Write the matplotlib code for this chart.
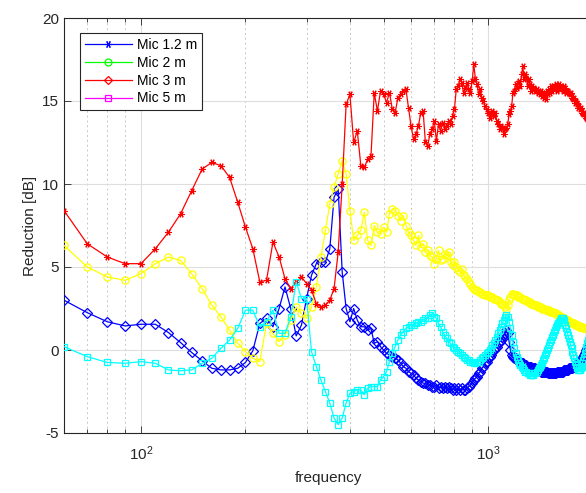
import matplotlib
matplotlib.use("Agg")
import matplotlib.pyplot as plt
from matplotlib.lines import Line2D
from matplotlib.ticker import LogLocator, NullFormatter

plt.rcParams['font.family'] = ['Liberation Sans', 'DejaVu Sans']
plt.rcParams['mathtext.fontset'] = 'custom'
plt.rcParams['mathtext.rm'] = 'Liberation Sans'
plt.rcParams['mathtext.it'] = 'Liberation Sans:italic'
plt.rcParams['axes.unicode_minus'] = False

# frequency grid (Hz), 10 Hz steps
freq = list(range(60, 2001, 10))

red = [8.4, 6.4, 5.6, 5.2,
       5.2, 6.1, 7.1, 8.2, 9.6, 10.9, 11.3, 11.1, 10.4, 8.9,
       7.4, 6.1, 4.1, 4.2, 6.5, 5.6, 4.3, 3.7, 4.1, 4.4,
       4.0, 3.6, 2.8, 2.6, 2.7, 3.0, 3.7, 5.9, 10.0, 14.8,
       15.4, 12.5, 13.2, 11.1, 11.0, 11.5, 11.7, 15.5, 14.4, 15.6,
       15.4, 14.9, 15.5, 14.5, 14.3, 15.2, 15.4, 15.6, 15.7, 14.6,
       13.5, 12.7, 13.0, 13.5, 14.3, 14.4, 12.5, 12.3, 13.0, 13.3,
       13.8, 12.6, 13.6, 13.2, 13.7, 13.3, 13.5, 13.8, 13.6, 14.1,
       14.5, 15.7, 15.9, 16.3, 16.1, 15.5, 15.8, 16.1, 15.7, 15.5,
       16.2, 17.2, 16.3, 16.0, 15.4, 15.7, 15.2, 15.0, 14.7, 14.5,
       14.3, 14.0, 14.2, 14.4, 14.1, 14.3, 13.8, 13.6, 13.3, 13.5,
       13.4, 13.0, 13.3, 13.4, 13.6, 14.2, 14.4, 14.7, 15.5, 15.6,
       16.0, 15.8, 16.1, 16.2, 15.9, 16.6, 17.1, 16.3, 16.6, 16.4,
       15.9, 16.3, 16.0, 15.6, 15.9, 15.7, 15.8, 15.6, 15.7, 15.5,
       15.6, 15.4, 15.6, 15.3, 15.5, 15.2, 15.5, 15.1, 15.6, 15.4,
       15.7, 15.5, 15.9, 15.6, 15.9, 15.7, 15.8, 16.0, 15.6, 15.9,
       16.0, 15.7, 15.9, 15.8, 15.6, 15.9, 15.7, 15.8, 15.5, 15.6,
       15.6, 15.5, 15.4, 15.5, 15.2, 15.3, 15.1, 15.2, 14.9, 15.0,
       14.8, 14.9, 14.6, 14.7, 14.5, 14.6, 14.3, 14.4, 14.2, 14.3,
       14.1, 14.2, 14.0, 13.9, 14.0, 13.8, 13.9, 13.7, 13.8, 13.6,
       13.7]

yellow = [6.3, 5.0, 4.4, 4.2,
          4.6, 5.2, 5.6, 5.4, 4.6, 3.7, 2.7, 2.0, 1.2, 0.4,
          -0.1, -0.5, -0.7, 1.6, 1.0, 0.5, 0.9, 1.8, 2.6, 2.2,
          1.9, 2.6, 3.8, 5.6, 7.2, 8.8, 9.8, 10.6, 11.4, 10.6,
          8.4, 6.6, 6.9, 7.2, 8.3, 6.6, 6.3, 7.5, 7.1, 7.0,
          7.4, 7.1, 8.2, 8.5, 8.4, 8.1, 7.8, 8.1, 7.5, 7.1,
          6.9, 6.6, 6.3, 6.9, 6.2, 6.4, 5.9, 6.0, 5.7, 5.6,
          5.2, 5.5, 6.0, 5.4, 5.5, 5.8, 5.7, 5.9, 5.3, 5.1,
          5.3, 5.0, 4.8, 4.7, 4.9, 4.5, 4.4, 4.3, 4.1, 4.0,
          3.8, 3.7, 3.6, 3.6, 3.5, 3.5, 3.4, 3.4, 3.3, 3.3,
          3.3, 3.2, 3.2, 3.2, 3.1, 3.1, 3.0, 3.0, 2.9, 2.8,
          2.8, 2.7, 2.6, 2.5, 2.7, 3.0, 3.2, 3.4, 3.4, 3.3,
          3.3, 3.3, 3.2, 3.2, 3.2, 3.1, 3.1, 3.0, 3.0, 3.0,
          2.9, 2.9, 2.9, 2.8, 2.8, 2.8, 2.7, 2.7, 2.7, 2.6,
          2.6, 2.6, 2.6, 2.5, 2.5, 2.5, 2.5, 2.4, 2.4, 2.4,
          2.4, 2.3, 2.3, 2.3, 2.3, 2.2, 2.2, 2.2, 2.1, 2.1,
          2.1, 2.0, 2.0, 2.0, 1.9, 1.9, 1.9, 1.8, 1.8, 1.8,
          1.8, 1.7, 1.7, 1.7, 1.6, 1.6, 1.6, 1.6, 1.5, 1.5,
          1.5, 1.5, 1.5, 1.4, 1.4, 1.4, 1.4, 1.4, 1.3, 1.3,
          1.3, 1.3, 1.3, 1.3, 1.2, 1.2, 1.2, 1.2, 1.2, 1.2,
          1.1]

blue = [3.0, 2.25, 1.7, 1.45,
        1.55, 1.55, 1.05, 0.45, -0.15, -0.65, -1.1, -1.2, -1.2, -1.1,
        -0.75, -0.05, 1.6, 1.9, 1.4, 2.5, 3.8, 2.5, 0.85, 1.5,
        3.1, 4.5, 5.2, 5.3, 5.3, 6.1, 9.2, 9.7, 4.7, 2.5,
        1.7, 2.5, 1.8, 1.4, 1.4, 1.2, 1.3, 0.4, 0.5, 0.2,
        0.0, -0.2, -0.3, -0.4, -0.5, -0.6, -0.8, -1.0, -1.1, -1.3,
        -1.4, -1.5, -1.7, -1.8, -1.9, -2.0, -2.0, -2.1, -2.1, -2.2,
        -2.2, -2.1, -2.3, -2.2, -2.3, -2.2, -2.3, -2.2, -2.3, -2.4,
        -2.3, -2.4, -2.3, -2.4, -2.3, -2.4, -2.4, -2.3, -2.2, -2.1,
        -2.0, -1.8, -1.7, -1.6, -1.4, -1.3, -1.1, -1.0, -0.8, -0.7,
        -0.5, -0.4, -0.3, -0.1, 0.0, 0.1, 0.2, 0.4, 0.5, 0.6,
        0.8, 0.9, 1.0, 1.2, 1.0, 0.5, 0.0, -0.3, -0.4, -0.5,
        -0.5, -0.6, -0.6, -0.7, -0.7, -0.8, -0.8, -0.9, -0.9, -0.9,
        -1.0, -1.0, -1.0, -1.0, -1.1, -1.1, -1.1, -1.1, -1.2, -1.2,
        -1.2, -1.2, -1.3, -1.3, -1.3, -1.3, -1.3, -1.3, -1.3, -1.4,
        -1.4, -1.4, -1.4, -1.4, -1.4, -1.4, -1.4, -1.4, -1.3, -1.3,
        -1.3, -1.3, -1.3, -1.3, -1.3, -1.2, -1.2, -1.2, -1.2, -1.2,
        -1.2, -1.1, -1.1, -1.1, -1.1, -1.1, -1.0, -1.0, -1.0, -0.9,
        -0.9, -0.9, -0.8, -0.8, -0.7, -0.7, -0.6, -0.5, -0.4, -0.3,
        -0.2, -0.1, 0.0, 0.1, 0.2, 0.3, 0.4, 0.5, 0.6, 0.7,
        0.8]

cyan = [0.2, -0.4, -0.75, -0.8,
        -0.7, -0.8, -1.2, -1.25, -1.2, -0.8, -0.5, 0.1, 0.6, 1.3,
        2.4, 2.4, 1.4, 1.7, 2.4, 1.0, 1.0, 2.0, 4.1, 3.1,
        3.1, -0.1, -1.0, -1.8, -2.5, -3.2, -4.1, -4.5, -4.1, -3.2,
        -2.6, -2.5, -2.4, -2.4, -2.7, -2.3, -2.2, -2.2, -2.2, -1.8,
        -1.6, -1.3, -0.7, -0.2, 0.2, 0.6, 0.9, 1.1, 1.3, 1.4,
        1.5, 1.5, 1.6, 1.7, 1.7, 1.8, 1.9, 1.9, 2.1, 2.2,
        2.0, 1.9, 1.6, 1.4, 1.1, 0.9, 0.7, 0.5, 0.4, 0.2,
        0.1, 0.0, -0.1, -0.2, -0.3, -0.4, -0.5, -0.6, -0.6, -0.7,
        -0.7, -0.8, -0.8, -0.75, -0.7, -0.6, -0.5, -0.4, -0.3, -0.2,
        -0.1, 0.0, 0.1, 0.3, 0.4, 0.6, 0.8, 1.0, 1.2, 1.4,
        1.6, 1.8, 2.0, 2.1, 2.0, 1.7, 1.3, 0.9, 0.5, 0.1,
        -0.2, -0.4, -0.6, -0.8, -0.9, -1.0, -1.1, -1.2, -1.3, -1.3,
        -1.4, -1.4, -1.5, -1.5, -1.5, -1.5, -1.4, -1.4, -1.3, -1.2,
        -1.1, -1.0, -0.9, -0.8, -0.6, -0.5, -0.3, -0.2, 0.0, 0.1,
        0.3, 0.5, 0.6, 0.8, 0.9, 1.1, 1.2, 1.4, 1.5, 1.6,
        1.7, 1.8, 1.9, 1.9, 1.9, 1.8, 1.7, 1.5, 1.3, 1.1,
        0.9, 0.7, 0.5, 0.3, 0.1, -0.1, -0.3, -0.5, -0.7, -0.9,
        -1.0, -1.1, -1.2, -1.2, -1.2, -1.1, -1.0, -0.8, -0.6, -0.4,
        -0.2, 0.0, 0.2, 0.4, 0.6, 0.8, 1.0, 1.2, 1.4, 1.6,
        1.7]

legend_labels = ["Mic 1.2 m", "Mic 2 m", "Mic 3 m", "Mic 5 m"]
yticks = [-5, 0, 5, 10, 15, 20]

AX = (0.15, 0.15, 0.15)
ASTER = (6, 2, 90)

fig = plt.figure(figsize=(5.86, 4.93), dpi=100)
ax = fig.add_axes([64 / 586, 1 - 433 / 493, 528.5 / 586, 415 / 493])

lw = 0.9
ax.plot(freq, blue, color=(0, 0, 1), lw=lw, marker='D', ms=4.6, mfc='none', mew=0.9, zorder=3)
ax.plot(freq, yellow, color=(1, 1, 0), lw=lw, marker='o', ms=5.2, mfc='none', mew=0.9, zorder=3)
ax.plot(freq, red, color=(1, 0, 0), lw=lw, marker=ASTER, ms=4.6, mfc='none', mew=0.8, zorder=3)
ax.plot(freq, cyan, color=(0, 1, 1), lw=lw, marker='s', ms=4.2, mfc='none', mew=0.9, zorder=3)

ax.set_xscale('log')
ax.set_xlim(60, 2000)
ax.set_ylim(-5, 20)
ax.set_yticks(yticks)
ax.xaxis.set_major_locator(LogLocator(base=10, subs=(1.0,)))
ax.xaxis.set_minor_locator(LogLocator(base=10, subs=tuple(range(2, 10))))
ax.xaxis.set_minor_formatter(NullFormatter())

ax.grid(True, which='major', color=(0.87, 0.87, 0.87), lw=0.8, ls='-', zorder=0)
ax.grid(True, which='minor', axis='x', color=(0.78, 0.78, 0.78), lw=0.7, ls=(0, (2, 3)), zorder=0)
ax.set_axisbelow(True)

for s in ax.spines.values():
    s.set_color(AX)
    s.set_linewidth(0.8)
ax.tick_params(which='both', direction='in', top=True, right=True, color=AX,
               labelcolor=AX, labelsize=11, width=0.6)
ax.tick_params(which='major', length=5)
ax.tick_params(which='minor', length=3)
ax.tick_params(axis='x', which='major', pad=8)

ax.set_xlabel('frequency', fontsize=11, color=AX, labelpad=6)
ax.set_ylabel('Reduction [dB]', fontsize=11, color=AX, labelpad=4)

handles = [
    Line2D([], [], color=(0, 0, 1), lw=lw, marker=ASTER, ms=5, mfc='none', mew=0.8),
    Line2D([], [], color=(0, 1, 0), lw=lw, marker='o', ms=5, mfc='none', mew=0.9),
    Line2D([], [], color=(1, 0, 0), lw=lw, marker='D', ms=4.5, mfc='none', mew=0.9),
    Line2D([], [], color=(1, 0, 1), lw=lw, marker='s', ms=4, mfc='none', mew=0.9),
]
leg = ax.legend(handles, legend_labels, loc='upper left', bbox_to_anchor=(0.030, 0.964),
                fontsize=10, frameon=True, fancybox=False, edgecolor=AX, framealpha=1,
                handlelength=3.4, handletextpad=0.35, borderpad=0.35, labelspacing=0.28,
                borderaxespad=0)
leg.get_frame().set_linewidth(0.8)

fig.savefig('out.png', dpi=100)
